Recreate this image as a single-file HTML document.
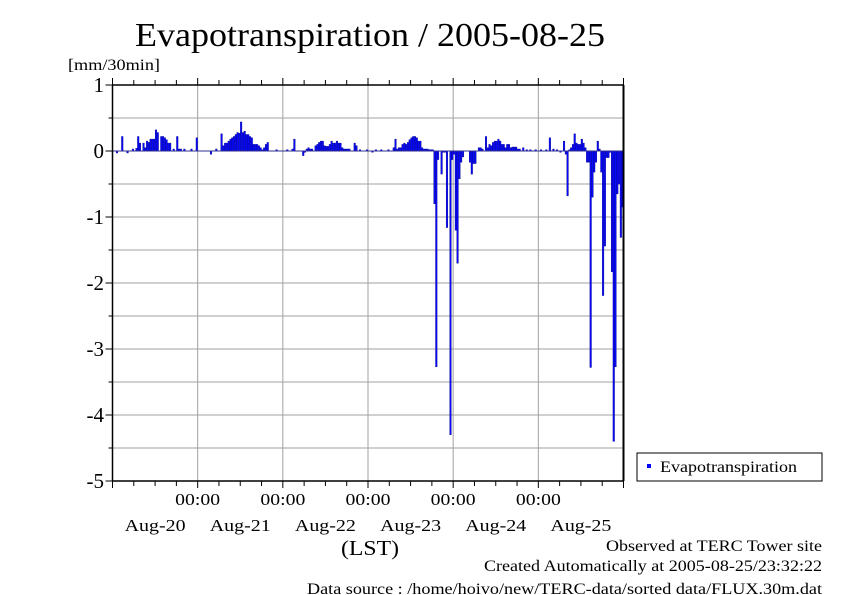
<!DOCTYPE html>
<html><head><meta charset="utf-8"><style>
body{margin:0;background:#fff;}
svg{display:block;font-family:"Liberation Serif",serif;}
</style></head><body>
<svg id="chart" width="842" height="595" xmlns="http://www.w3.org/2000/svg">
<text x="135" y="46" font-size="34" textLength="470" lengthAdjust="spacingAndGlyphs">Evapotranspiration / 2005-08-25</text>
<text x="68" y="70" font-size="16" textLength="92" lengthAdjust="spacingAndGlyphs">[mm/30min]</text>
<g id="grid"></g><g id="bars"></g><g id="axes"></g>
<text x="341" y="555" font-size="21" textLength="58" lengthAdjust="spacingAndGlyphs">(LST)</text>
<g>
<rect x="637" y="453" width="185" height="28" fill="#fff" stroke="#000" stroke-width="1"/>
<rect x="647" y="464" width="4" height="4" fill="#0000ff"/>
<text x="660" y="472" font-size="16" textLength="137" lengthAdjust="spacingAndGlyphs">Evapotranspiration</text>
</g>
<text x="606" y="551" font-size="16" textLength="216" lengthAdjust="spacingAndGlyphs">Observed at TERC Tower site</text>
<text x="484" y="571" font-size="16" textLength="338" lengthAdjust="spacingAndGlyphs">Created Automatically at 2005-08-25/23:32:22</text>
<text x="307" y="594" font-size="16" textLength="515" lengthAdjust="spacingAndGlyphs">Data source : /home/hoivo/new/TERC-data/sorted data/FLUX.30m.dat</text>
</svg>
<script>
const dayLabels=["Aug-20","Aug-21","Aug-22","Aug-23","Aug-24","Aug-25"];
const yTicks=[1,0,-1,-2,-3,-4,-5];
const day1=[0,0,-0.03,0,0,0.22,0,0,-0.03,0,0,0.03,0,0.04,0.22,0.12,0,0.12,0.05,0.15,0.13,0.18,0.18,0.18,0.32,0.28,0,0.22,0.22,0.2,0.17,0.12,0.12,0,0.03,0,0.22,0.03,0.03,0,0.03,0,0,0,0.03,0,0,0.2];
const day2=[0,0,0,0,0,0,0,-0.05,0,0,0.03,0,0,0.26,0.08,0.12,0.12,0.15,0.18,0.2,0.22,0.25,0.28,0.27,0.44,0.28,0.3,0.25,0.25,0.22,0.2,0.1,0.1,0.1,0.08,0.05,0.02,0.05,0.1,0.13,0,0,0,0,0.02,0,0,0];
const day3=[0,0,0.02,0,0,0.03,0.18,0,0,0,0,-0.07,-0.02,0.03,0.05,0.03,0.03,0,0.08,0.1,0.13,0.15,0.15,0.08,0.07,0.07,0.1,0.15,0.12,0.12,0.15,0.12,0.12,0.05,0.03,0.03,0.03,0.03,0,0,0.12,0.08,0,0.02,0,0,0,0.02];
const day4=[0,0,-0.02,0,0.02,0,0,0.02,0,0,0,0.02,0,0,0.05,0.18,0.03,0.05,0.05,0.1,0.12,0.1,0.13,0.17,0.2,0.22,0.22,0.2,0.15,0.15,0.05,0.03,0.03,0.03,0.02,0.02,0.02,-0.8,-3.27,-0.13,0,-0.35,-0.02,-0.02,-1.16,0,-4.3,-0.13];
const day5=[-0.05,-1.2,-1.7,-0.42,-0.17,-0.09,0,0,0,-0.17,-0.35,-0.19,-0.19,0,0.05,0.05,0.03,0,0.22,0.05,0.1,0.08,0.13,0.15,0.15,0.18,0.15,0.1,0.1,0.05,0.1,0.1,0.05,0.06,0.06,0.06,0.03,0.03,0,0.05,0,0.02,0,0.02,0,0,0.02,0];
const day6=[0,0.02,0,0,0.02,0,0.2,0,0.03,0,0.02,0,-0.02,0,0.15,-0.05,-0.68,0.02,0.05,0.1,0.26,0.12,0.1,0.1,0.18,0.12,0.05,-0.17,-0.17,-3.28,-0.7,-0.32,-0.17,0.15,0.03,-0.32,-2.19,-1.44,-0.1,-0.1,-0.02,-1.83,-4.4,-3.27,-0.65,-0.5,-1.31,-0.85];
const values=[].concat(day1,day2,day3,day4,day5,day6);

const NS="http://www.w3.org/2000/svg";
const X0=112.5,X1=623.5,Y0=85,Y1=481,YMAX=1,YMIN=-5;
const N=values.length;
const xs=i=>X0+(X1-X0)*i/N;
const ys=v=>Y0+(YMAX-v)/(YMAX-YMIN)*(Y1-Y0);
function mk(tag,attrs,parent){const e=document.createElementNS(NS,tag);for(const k in attrs)e.setAttribute(k,attrs[k]);parent.appendChild(e);return e;}
const grid=document.getElementById('grid'),bars=document.getElementById('bars'),axes=document.getElementById('axes');
for(let v=YMAX-0.5;v>YMIN;v-=0.5){
  const l=mk('line',{x1:X0,x2:X1,y1:ys(v),y2:ys(v),stroke:'#a0a0a0','stroke-width':1},grid);
  
  
}
for(let d=1;d<dayLabels.length;d++){
  const x=xs(d*48);
  const l=mk('line',{x1:x,x2:x,y1:Y0,y2:Y1,stroke:'#a0a0a0','stroke-width':1},grid);
  
  
  const t=mk('text',{x:x-22.5,y:505,'font-size':17,textLength:45,lengthAdjust:'spacingAndGlyphs'},axes);t.textContent='00:00';
  
  
}
dayLabels.forEach((lab,d)=>{
  const t=mk('text',{x:xs(d*48+24)-30.5,y:531,'font-size':17,textLength:61,lengthAdjust:'spacingAndGlyphs'},axes);t.textContent=lab;
  
  
});
const bw=(X1-X0)/N;
values.forEach((v,i)=>{
  if(v===0)return;
  const y=Math.min(ys(v),ys(0)),h=Math.max(Math.abs(ys(v)-ys(0)),1);
  const r=mk('rect',{x:xs(i)+0.1,y:y,width:bw-0.2,height:h,fill:'#0808ff',stroke:'#000090','stroke-width':0.4},bars);
  
  
});
const zl=mk('line',{x1:X0,x2:X1,y1:ys(0),y2:ys(0),stroke:'#303090','stroke-width':1},bars);


mk('line',{x1:X0,x2:X0,y1:Y0,y2:Y1,stroke:'#000','stroke-width':1.5},axes);
mk('line',{x1:X1,x2:X1,y1:Y0,y2:Y1,stroke:'#000','stroke-width':2},axes);
mk('line',{x1:X0,x2:X1,y1:Y0,y2:Y0,stroke:'#000','stroke-width':1.5},axes);
mk('line',{x1:X0,x2:X1,y1:Y1,y2:Y1,stroke:'#000','stroke-width':1.5},axes);
for(let k=0;k<=24;k++){
  const x=xs(k*12);
  mk('line',{x1:x,x2:x,y1:Y1,y2:Y1+(k%4===0?7:5),stroke:'#000','stroke-width':1},axes);
  mk('line',{x1:x,x2:x,y1:Y0,y2:Y0-(k%4===0?7:5),stroke:'#000','stroke-width':1},axes);
}
for(let v=YMAX;v>=YMIN;v-=0.5){
  mk('line',{x1:X0-(Number.isInteger(v)?7:4),x2:X0,y1:ys(v),y2:ys(v),stroke:'#000','stroke-width':1},axes);
}
yTicks.forEach(v=>{
  const t=mk('text',{x:104,y:ys(v)+7,'font-size':21,'text-anchor':'end'},axes);t.textContent=String(v);
  
  
});
</script>
</body></html>
